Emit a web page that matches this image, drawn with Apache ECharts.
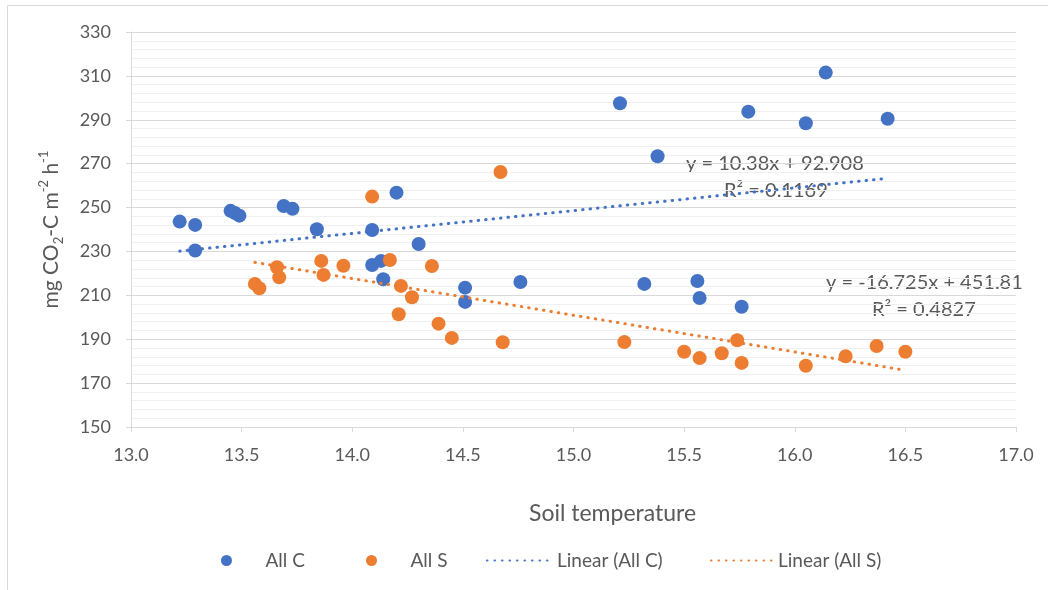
<!DOCTYPE html>
<html>
<head>
<meta charset="utf-8">
<script src="https://cdn.jsdelivr.net/npm/echarts@6/dist/echarts.min.js"></script>
<style>
  html, body { margin: 0; padding: 0; background: #fff; }
  #chart { width: 1048px; height: 590px; }
</style>
</head>
<body>
<div id="chart"></div>
<script>
// Soil respiration vs soil temperature, two treatments with linear fits
const xTicks = { min: 13, max: 17, interval: 0.5 };
const yTicks = { min: 150, max: 330, interval: 20 };

// All C: [soil temperature, mg CO2-C m-2 h-1]
const allC = [
  [13.22, 243.6], [13.29, 242.1], [13.29, 230.4], [13.45, 248.5], [13.47, 247.5],
  [13.49, 246.3], [13.69, 250.7], [13.73, 249.4], [13.84, 240.1], [14.09, 239.8],
  [14.09, 223.8], [14.13, 225.7], [14.14, 217.3], [14.20, 256.8], [14.30, 233.4],
  [14.51, 213.5], [14.51, 207.0], [14.76, 216.1], [15.21, 297.5], [15.32, 215.2],
  [15.38, 273.4], [15.56, 216.5], [15.57, 208.8], [15.76, 204.8], [15.79, 293.7],
  [16.05, 288.4], [16.14, 311.5], [16.42, 290.5]
];

// All S
const allS = [
  [13.56, 215.2], [13.58, 213.2], [13.66, 222.8], [13.67, 218.2], [13.86, 225.7],
  [13.87, 219.3], [13.96, 223.5], [14.09, 255.0], [14.17, 226.1], [14.22, 214.3],
  [14.21, 201.4], [14.27, 209.1], [14.36, 223.4], [14.39, 197.1], [14.45, 190.6],
  [14.68, 188.6], [14.67, 266.2], [15.23, 188.7], [15.50, 184.3], [15.57, 181.4],
  [15.67, 183.6], [15.74, 189.5], [15.76, 179.2], [16.05, 177.9], [16.23, 182.2],
  [16.37, 186.9], [16.50, 184.3]
];

// Least-squares fits as printed on the chart
const fitC = { slope: 10.38, intercept: 92.908, r2: '0.1169' };
const fitS = { slope: -16.725, intercept: 451.81, r2: '0.4827' };

const seriesNames = ['All C', 'All S', 'Linear (All C)', 'Linear (All S)'];
const xTitle = 'Soil temperature';
const colors = { c: '#4472C4', s: '#ED7D31' };

function fitLine(points, fit) {
  const xs = points.map(p => p[0]);
  const x0 = Math.min(...xs), x1 = Math.max(...xs);
  return [[x0, fit.slope * x0 + fit.intercept], [x1, fit.slope * x1 + fit.intercept]];
}

function equation(fit) {
  const sign = fit.intercept >= 0 ? '+' : '-';
  return 'y = ' + fit.slope + 'x ' + sign + ' ' + Math.abs(fit.intercept);
}

const textColor = '#595959';
const fontFamily = 'Lato, "Open Sans", sans-serif';
const chart = echarts.init(document.getElementById('chart'), null, { renderer: 'canvas' });

const dotted = { width: 3, type: [0.5, 7], cap: 'round' };

function legendItem(name, left, itemWidth, itemHeight, hideSymbol) {
  const item = {
    data: [name], left: left, top: 546, itemWidth: itemWidth, itemHeight: itemHeight,
    itemGap: 0, selectedMode: false,
    textStyle: { color: textColor, fontSize: 19, fontFamily: fontFamily }
  };
  if (hideSymbol) item.itemStyle = { opacity: 0 };
  return item;
}

function note(text, left, top) {
  return { type: 'text', left: left, top: top,
    style: { text: text, fill: textColor, fontSize: 20, fontFamily: fontFamily } };
}

chart.setOption({
  animation: false,
  textStyle: { fontFamily: fontFamily },
  grid: { left: 131, right: 32, top: 32, bottom: 163 },
  graphic: [
    { type: 'rect', shape: { x: 7.5, y: 5.5, width: 1100, height: 700 },
      style: { fill: 'none', stroke: '#d9d9d9', lineWidth: 1 }, silent: true, z: -1 },
    note(equation(fitC), 686, 154),
    note('R² = ' + fitC.r2, 724, 181),
    note(equation(fitS), 826, 273),
    note('R² = ' + fitS.r2, 872, 300),
    { type: 'text', left: 529, top: 502,
      style: { text: xTitle, fill: textColor, fontSize: 23, fontFamily: fontFamily } }
  ],
  legend: [
    legendItem(seriesNames[0], 216, 68, 11, false),
    legendItem(seriesNames[1], 361, 68, 11, false),
    legendItem(seriesNames[2], 481, 65, 6, true),
    legendItem(seriesNames[3], 705, 62, 6, true)
  ],
  xAxis: {
    type: 'value', min: xTicks.min, max: xTicks.max, interval: xTicks.interval,
    axisLine: { show: true, lineStyle: { color: '#d9d9d9', width: 1 } },
    axisTick: { show: true, length: 5, lineStyle: { color: '#d9d9d9' } },
    axisLabel: { color: textColor, fontSize: 18, margin: 19, formatter: v => v.toFixed(1) },
    splitLine: { show: false }
  },
  yAxis: {
    type: 'value', min: yTicks.min, max: yTicks.max, interval: yTicks.interval,
    name: '{m|mg CO}{sub|2}{m|-C m}{sup|-2}{m| h}{sup|-1}',
    nameLocation: 'middle', nameGap: 66, nameRotate: 90,
    nameTextStyle: {
      color: textColor,
      rich: {
        m: { fontSize: 21, color: textColor, fontFamily: fontFamily, lineHeight: 28 },
        sub: { fontSize: 13, color: textColor, fontFamily: fontFamily, lineHeight: 12, verticalAlign: 'bottom' },
        sup: { fontSize: 13, color: textColor, fontFamily: fontFamily, lineHeight: 12, verticalAlign: 'top' }
      }
    },
    axisLine: { show: true, lineStyle: { color: '#d9d9d9', width: 1 } },
    axisTick: { show: true, length: 5, lineStyle: { color: '#d9d9d9' } },
    axisLabel: { color: textColor, fontSize: 18, margin: 20 },
    splitLine: { show: true, lineStyle: { color: '#d9d9d9', width: 1 } },
    minorTick: { show: false, splitNumber: 5 },
    minorSplitLine: { show: true, lineStyle: { color: '#f0f0f0', width: 1 } }
  },
  series: [
    { name: seriesNames[0], type: 'scatter', data: allC, symbolSize: 14,
      itemStyle: { color: colors.c, opacity: 1 }, z: 2 },
    { name: seriesNames[1], type: 'scatter', data: allS, symbolSize: 14,
      itemStyle: { color: colors.s, opacity: 1 }, z: 3 },
    { name: seriesNames[2], type: 'line', data: fitLine(allC, fitC), symbol: 'none',
      lineStyle: Object.assign({ color: colors.c }, dotted), itemStyle: { color: colors.c }, z: 4 },
    { name: seriesNames[3], type: 'line', data: fitLine(allS, fitS), symbol: 'none',
      lineStyle: Object.assign({ color: colors.s }, dotted), itemStyle: { color: colors.s }, z: 4 }
  ]
});
</script>
</body>
</html>
